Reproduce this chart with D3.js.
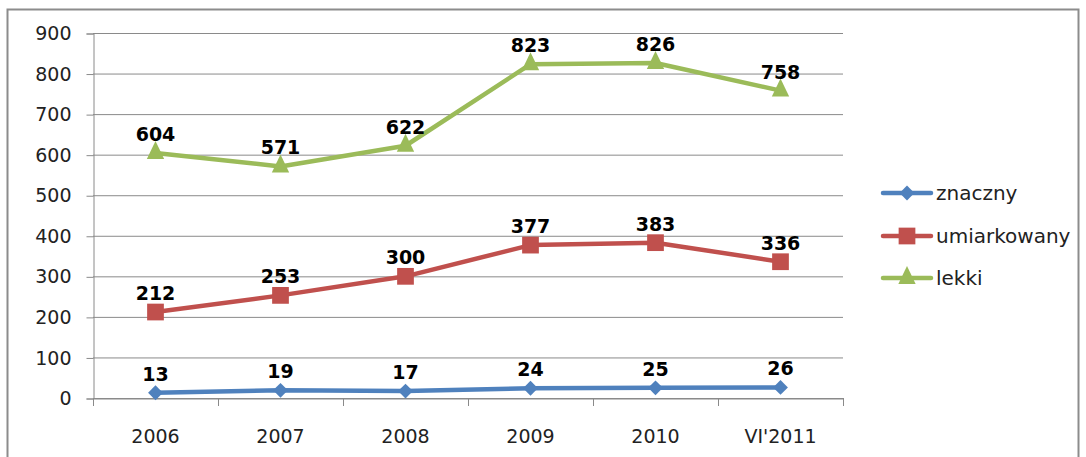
<!DOCTYPE html>
<html>
<head>
<meta charset="utf-8">
<script src="https://cdn.jsdelivr.net/npm/d3@7"></script>
<style>
body { margin: 0; background: #fff; }
svg { display: block; }
text { font-family: "DejaVu Sans", sans-serif; }
</style>
</head>
<body>
<svg></svg>
<script>
var years = ["2006", "2007", "2008", "2009", "2010", "VI'2011"]
var znaczny = [13, 19, 17, 24, 25, 26]
var umiarkowany = [212, 253, 300, 377, 383, 336]
var lekki = [604, 571, 622, 823, 826, 758]
var yTicks = [0, 100, 200, 300, 400, 500, 600, 700, 800, 900]

var screen = {width: 1086, height: 457}
var plot = {left: 93, right: 843, top: 33, bottom: 398}

// marker shapes: diamond is a square turned 45 degrees
var series = [
    {name: "znaczny", values: znaczny, color: "#4F81BD", marker: d3.symbolSquare, size: 110, rot: 45, sy: 1},
    {name: "umiarkowany", values: umiarkowany, color: "#C0504D", marker: d3.symbolSquare, size: 280, rot: 0, sy: 1},
    {name: "lekki", values: lekki, color: "#9BBB59", marker: d3.symbolTriangle, size: 130, rot: 0, sy: 1.2}
]

var svg = d3.select("svg")
    .attr("width", screen.width)
    .attr("height", screen.height)

// outer frame
svg.append("rect")
    .attr("x", 7.5)
    .attr("y", 9.5)
    .attr("width", 1071)
    .attr("height", 460)
    .attr("fill", "white")
    .attr("stroke", "#8c8c8c")
    .attr("stroke-width", 2)

var xScale = d3.scaleBand()
    .domain(years)
    .range([plot.left, plot.right])

var yScale = d3.scaleLinear()
    .domain([0, 900])
    .range([plot.bottom, plot.top])

// gridlines
svg.append("g")
    .selectAll("line")
    .data(yTicks)
    .enter()
    .append("line")
    .attr("x1", plot.left)
    .attr("x2", plot.right)
    .attr("y1", function(d) { return yScale(d) + 0.5 })
    .attr("y2", function(d) { return yScale(d) + 0.5 })
    .attr("stroke", "#8a8a8a")
    .attr("stroke-width", 1)

var yAxis = d3.axisLeft(yScale)
    .tickValues(yTicks)
    .tickSize(7)
    .tickPadding(15)

svg.append("g")
    .attr("id", "yAxis")
    .attr("transform", "translate(" + (plot.left + 0.5) + ",0.5)")
    .call(yAxis)
    .call(function(g) {
        g.select(".domain").attr("stroke", "#8a8a8a")
        g.selectAll(".tick line").attr("stroke", "#8a8a8a")
        g.selectAll(".tick text")
            .attr("font-size", 19)
            .attr("fill", "#222")
            .attr("font-family", "DejaVu Sans")
    })

// x axis: labels under band centres, ticks on band edges
var xAxis = d3.axisBottom(xScale)
    .tickSize(0)
    .tickPadding(31)

svg.append("g")
    .attr("id", "xAxis")
    .attr("transform", "translate(0," + (plot.bottom + 0.5) + ")")
    .call(xAxis)
    .call(function(g) {
        g.select(".domain").attr("stroke", "#8a8a8a")
        g.selectAll(".tick text")
            .attr("font-size", 19)
            .attr("fill", "#222")
            .attr("font-family", "DejaVu Sans")
    })

var edges = years.map(function(d) { return xScale(d) }).concat([plot.right])
svg.append("g")
    .selectAll("line")
    .data(edges)
    .enter()
    .append("line")
    .attr("x1", function(d) { return Math.round(d) + 0.5 })
    .attr("x2", function(d) { return Math.round(d) + 0.5 })
    .attr("y1", plot.bottom)
    .attr("y2", plot.bottom + 8)
    .attr("stroke", "#8a8a8a")

var cx = function(d, i) { return xScale(years[i]) + xScale.bandwidth() / 2 }

var line = d3.line()
    .x(function(d, i) { return cx(d, i) })
    .y(function(d) { return yScale(d) })

var markerTransform = function(s, x, y) {
    return "translate(" + x + "," + y + ") scale(1," + s.sy + ") rotate(" + s.rot + ")"
}

series.forEach(function(s) {
    var g = svg.append("g").attr("class", "series")

    g.append("path")
        .datum(s.values)
        .attr("d", line)
        .attr("fill", "none")
        .attr("stroke", s.color)
        .attr("stroke-width", 4.5)
        .attr("stroke-linejoin", "round")
        .attr("stroke-linecap", "round")

    g.selectAll("path.marker")
        .data(s.values)
        .enter()
        .append("path")
        .attr("class", "marker")
        .attr("d", d3.symbol().type(s.marker).size(s.size))
        .attr("transform", function(d, i) { return markerTransform(s, cx(d, i), yScale(d)) })
        .attr("fill", s.color)

    g.selectAll("text")
        .data(s.values)
        .enter()
        .append("text")
        .attr("x", function(d, i) { return cx(d, i) })
        .attr("y", function(d) { return yScale(d) - 12 })
        .attr("text-anchor", "middle")
        .attr("font-family", "Open Sans")
        .attr("font-size", 19)
        .attr("font-weight", "bold")
        .attr("fill", "#000")
        .text(function(d) { return d })
})

// legend
var legend = svg.append("g")
    .attr("id", "legend")
    .selectAll("g")
    .data(series)
    .enter()
    .append("g")
    .attr("transform", function(d, i) { return "translate(883," + [193, 236, 278][i] + ")" })

legend.append("line")
    .attr("x1", 0)
    .attr("x2", 48)
    .attr("stroke", function(d) { return d.color })
    .attr("stroke-width", 4.5)
    .attr("stroke-linecap", "round")

legend.append("path")
    .attr("d", function(d) { return d3.symbol().type(d.marker).size(d.size)() })
    .attr("transform", function(d) { return markerTransform(d, 24, 0) })
    .attr("fill", function(d) { return d.color })

legend.append("text")
    .attr("x", 53)
    .attr("dy", "0.35em")
    .attr("font-size", 20)
    .attr("fill", "#222")
    .text(function(d) { return d.name })
</script>
</body>
</html>
